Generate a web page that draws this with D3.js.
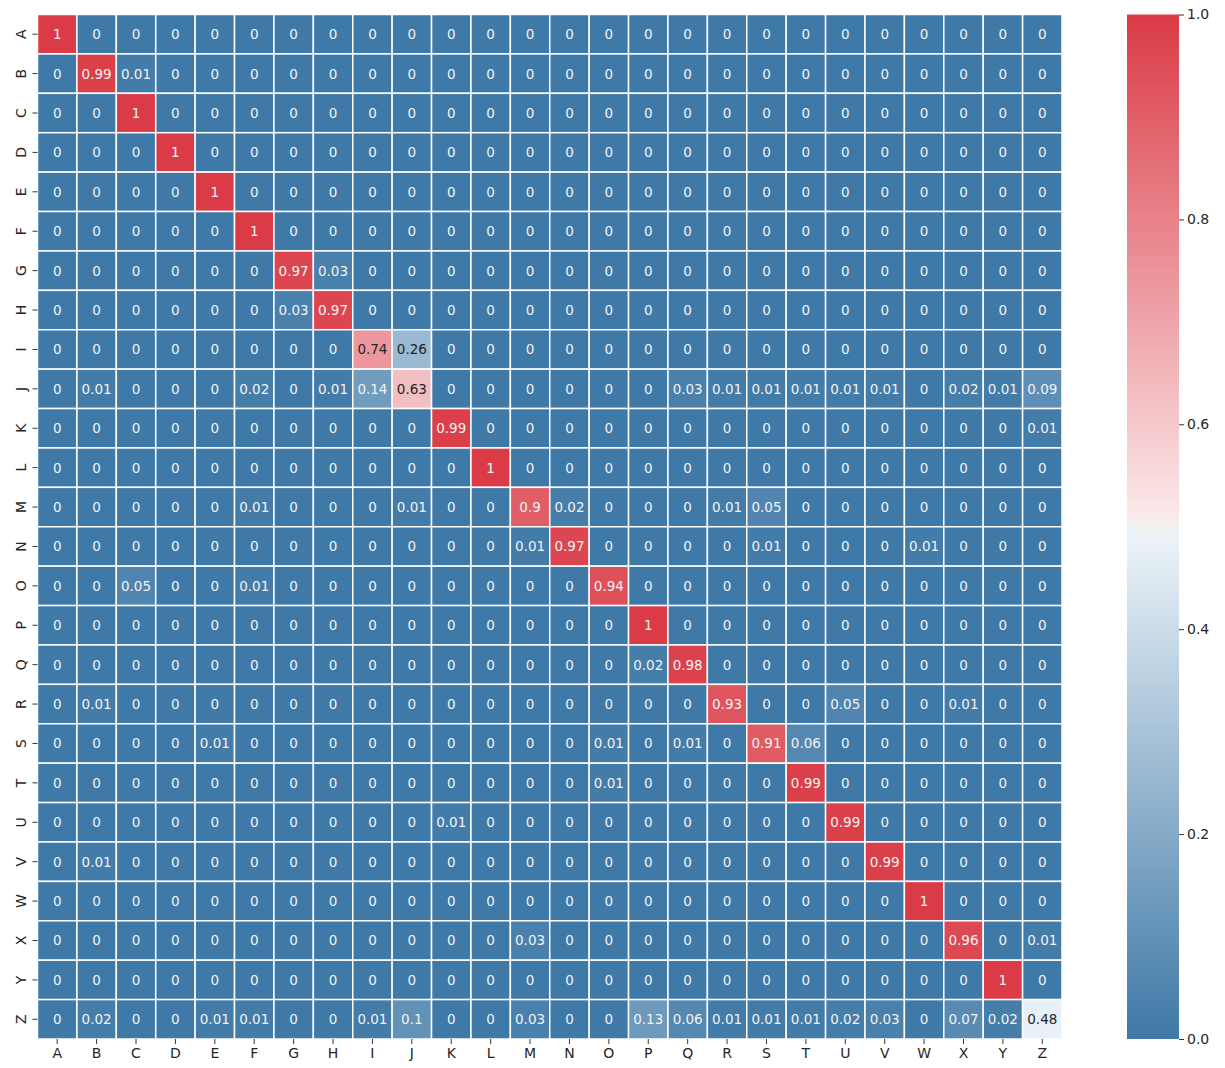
<!DOCTYPE html>
<html><head><meta charset="utf-8">
<script src="https://cdn.jsdelivr.net/npm/d3@7"></script>
<style>body{margin:0;background:#fff;} svg{display:block;font-family:"DejaVu Sans",sans-serif;}</style>
</head><body><svg id="c" width="1225" height="1068"></svg>
<script>
const labels = "ABCDEFGHIJKLMNOPQRSTUVWXYZ".split("");
// non-zero entries per row: {column: value}
const rowA = {A:1};
const rowB = {B:0.99, C:0.01};
const rowC = {C:1};
const rowD = {D:1};
const rowE = {E:1};
const rowF = {F:1};
const rowG = {G:0.97, H:0.03};
const rowH = {G:0.03, H:0.97};
const rowI = {I:0.74, J:0.26};
const rowJ = {B:0.01, F:0.02, H:0.01, I:0.14, J:0.63, Q:0.03, R:0.01, S:0.01, T:0.01, U:0.01, V:0.01, X:0.02, Y:0.01, Z:0.09};
const rowK = {K:0.99, Z:0.01};
const rowL = {L:1};
const rowM = {F:0.01, J:0.01, M:0.9, N:0.02, R:0.01, S:0.05};
const rowN = {M:0.01, N:0.97, S:0.01, W:0.01};
const rowO = {C:0.05, F:0.01, O:0.94};
const rowP = {P:1};
const rowQ = {P:0.02, Q:0.98};
const rowR = {B:0.01, R:0.93, U:0.05, X:0.01};
const rowS = {E:0.01, O:0.01, Q:0.01, S:0.91, T:0.06};
const rowT = {O:0.01, T:0.99};
const rowU = {K:0.01, U:0.99};
const rowV = {B:0.01, V:0.99};
const rowW = {W:1};
const rowX = {M:0.03, X:0.96, Z:0.01};
const rowY = {Y:1};
const rowZ = {B:0.02, E:0.01, F:0.01, I:0.01, J:0.1, M:0.03, P:0.13, Q:0.06, R:0.01, S:0.01, T:0.01, U:0.02, V:0.03, X:0.07, Y:0.02, Z:0.48};
const rows = [rowA,rowB,rowC,rowD,rowE,rowF,rowG,rowH,rowI,rowJ,rowK,rowL,rowM,rowN,rowO,rowP,rowQ,rowR,rowS,rowT,rowU,rowV,rowW,rowX,rowY,rowZ];
const cbTicks = [0.0, 0.2, 0.4, 0.6, 0.8, 1.0];

const cells = [];
rows.forEach((r, i) => labels.forEach(c => cells.push({row: labels[i], col: c, v: r[c] || 0})));

const svg = d3.select("#c");
const L0 = 37.5, T0 = 14.5, SZ = 1024.5;
const x = d3.scaleBand().domain(labels).range([L0, L0 + SZ]);
const y = d3.scaleBand().domain(labels).range([T0, T0 + SZ]);
const color = d3.scaleLinear()
  .domain([0, 0.494, 0.5, 0.506, 1])
  .range(["#3f79a7", "#ecf3f8", "#f2f2f2", "#fbeaeb", "#da3b46"])
  .interpolate(d3.interpolateRgb);

function lum(c){
  const o = d3.rgb(c);
  const f = v => { v/=255; return v <= 0.03928 ? v/12.92 : Math.pow((v+0.055)/1.055, 2.4); };
  return 0.2126*f(o.r) + 0.7152*f(o.g) + 0.0722*f(o.b);
}

svg.append("g").selectAll("rect").data(cells).join("rect")
  .attr("x", d => x(d.col)).attr("y", d => y(d.row))
  .attr("width", x.bandwidth()).attr("height", y.bandwidth())
  .attr("fill", d => color(d.v))
  .attr("stroke", "#fff").attr("stroke-width", 1.5);

svg.append("g").selectAll("text").data(cells).join("text")
  .attr("x", d => x(d.col) + x.bandwidth()/2)
  .attr("y", d => y(d.row) + y.bandwidth()/2)
  .attr("text-anchor", "middle").attr("dominant-baseline", "central")
  .attr("font-size", 13.5)
  .attr("fill", d => lum(color(d.v)) > 0.408 ? "#262626" : "#f2f2f2")
  .text(d => String(+d.v.toFixed(2)));

// axes
const gx = svg.append("g").attr("transform", `translate(0,${T0+SZ})`).call(d3.axisBottom(x).tickSize(5).tickPadding(4));
gx.select(".domain").remove();
gx.selectAll("text").attr("font-size", 14).attr("fill", "#262626").attr("font-family", "DejaVu Sans");
gx.selectAll("line").attr("stroke", "#333");

const gy = svg.append("g").attr("transform", `translate(${L0},0)`).call(d3.axisLeft(y).tickSize(5).tickPadding(4));
gy.select(".domain").remove();
gy.selectAll("line").attr("stroke", "#333");
gy.selectAll("text").attr("font-size", 14).attr("fill", "#262626").attr("font-family", "DejaVu Sans")
  .attr("x", null).attr("dy", null).attr("text-anchor", "middle")
  .attr("transform", "translate(-17,0) rotate(-90)")
  .attr("dominant-baseline", "central");

// colorbar
const cbX = 1127, cbW = 52;
const cy = d3.scaleLinear().domain([0, 1]).range([T0 + SZ, T0]);
const defs = svg.append("defs");
const grad = defs.append("linearGradient").attr("id", "cbg").attr("x1", 0).attr("x2", 0).attr("y1", 1).attr("y2", 0);
d3.range(0, 1.0001, 0.01).forEach(t => grad.append("stop").attr("offset", t).attr("stop-color", color(t)));
svg.append("rect").attr("x", cbX).attr("y", T0).attr("width", cbW).attr("height", SZ).attr("fill", "url(#cbg)");
const gc = svg.append("g").attr("transform", `translate(${cbX+cbW},0)`)
  .call(d3.axisRight(cy).tickValues(cbTicks).tickFormat(d3.format(".1f")).tickSize(5).tickPadding(3));
gc.select(".domain").remove();
gc.selectAll("line").attr("stroke", "#333");
gc.selectAll("text").attr("font-size", 14).attr("fill", "#262626").attr("font-family", "DejaVu Sans");
</script></body></html>
